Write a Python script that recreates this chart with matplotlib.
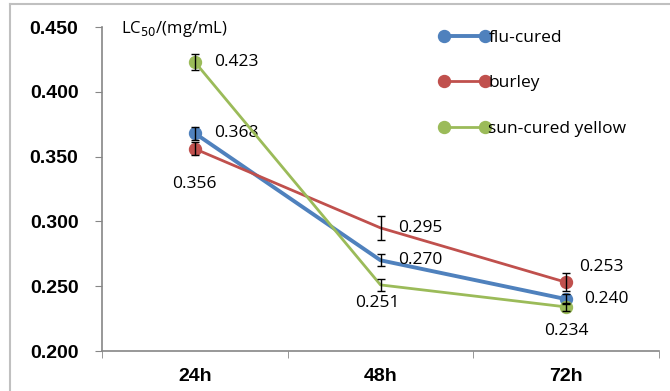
import numpy as np
import matplotlib.pyplot as plt
from matplotlib.lines import Line2D

times = ['24h', '48h', '72h']
flu_cured = [0.368, 0.270, 0.240]
burley = [0.356, 0.295, 0.253]
sun_cured = [0.423, 0.251, 0.234]
flu_err = [0.005, 0.0045, 0.004]
burley_err = [0.005, 0.009, 0.007]
sun_err = [0.006, 0.0045, 0.003]

# label offsets in pixels (dx, dy, ha)
flu_off = [(19, 0, 'left'), (18, 0, 'left'), (18, 0, 'left')]
burley_off = [(0, -35, 'center'), (18, 0, 'left'), (13, 15, 'left')]
sun_off = [(19, 0, 'left'), (-3, -18, 'center'), (0, -24, 'center')]

fig = plt.figure(figsize=(6.7, 3.91), dpi=100)
ax = fig.add_axes([102/670, 40/391, 557/670, 324/391])

# outer chart border (left and top only visible)
fig.add_artist(Line2D([10/670, 10/670], [0, 1 - 4/391], color='#c0c0c0', lw=1.5))
fig.add_artist(Line2D([10/670, 1], [1 - 4/391, 1 - 4/391], color='#c0c0c0', lw=1.5))

x = np.arange(len(times))
series = [
    ('flu-cured', flu_cured, flu_err, '#4f81bd', 2.8, flu_off),
    ('burley', burley, burley_err, '#c0504d', 2.0, burley_off),
    ('sun-cured yellow', sun_cured, sun_err, '#9bbb59', 2.0, sun_off),
]

for name, vals, err, col, lw, offs in series:
    ax.plot(x, vals, color=col, lw=lw, marker='o', markersize=8.6,
            markevery=[0, 2], label=name, zorder=3)
    ax.errorbar(x, vals, yerr=err, fmt='none', ecolor='black', elinewidth=1,
                capsize=3, capthick=1, zorder=4)
    for xi, v, (dx, dy, ha) in zip(x, vals, offs):
        ax.annotate(f'{v:.3f}', (xi, v), xytext=(dx, dy), textcoords='offset pixels',
                    ha=ha, va='center', fontsize=12.5, family='Open Sans', color='black')

ax.set_xlim(-0.5, 2.5)
ax.set_ylim(0.2, 0.45)
ax.set_yticks(np.arange(0.2, 0.451, 0.05))
ax.set_yticklabels([f'{t:.3f}' for t in np.arange(0.2, 0.451, 0.05)])
ax.set_xticks(x)
ax.set_xticklabels(times)
ax.set_xticks([-0.5, 0.5, 1.5, 2.5], minor=True)
ax.tick_params(axis='x', which='major', length=0, pad=12)
ax.tick_params(axis='x', which='minor', length=5, direction='out', color='#868686')
ax.tick_params(axis='y', length=5, direction='out', color='#868686', pad=12)
for lab in ax.get_xticklabels() + ax.get_yticklabels():
    lab.set_family('Liberation Sans')
    lab.set_fontweight('bold')
    lab.set_fontsize(14)

for s in ['top', 'right']:
    ax.spines[s].set_visible(False)
for s in ['left', 'bottom']:
    ax.spines[s].set_color('#868686')
    ax.spines[s].set_linewidth(1.2)

ax.text(0.035, 0.995, 'LC$_{50}$/(mg/mL)', transform=ax.transAxes, ha='left', va='center',
        fontsize=12, family='Open Sans')

leg = ax.legend(loc='upper left', bbox_to_anchor=(0.576, 1.04), frameon=False, numpoints=2,
                handlelength=3.0, handletextpad=-0.12, labelspacing=1.7,
                prop={'family': 'Open Sans', 'size': 12.5})

fig.savefig('out.png', dpi=100)
